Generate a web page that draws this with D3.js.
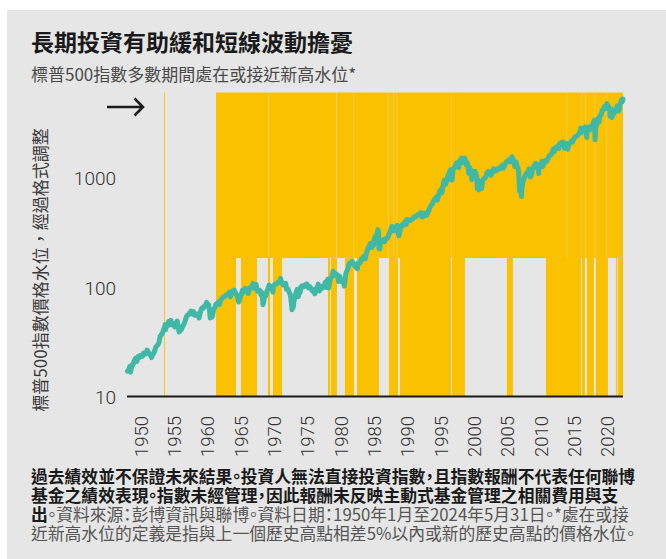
<!DOCTYPE html>
<html><head><meta charset="utf-8">
<script src="https://cdn.jsdelivr.net/npm/d3@7"></script>
<style>
html,body{margin:0;padding:0;background:#fff;}
svg{display:block;}
text{font-family:"Noto Sans CJK TC","Noto Sans",sans-serif;}
.num{font-family:Roboto,"Noto Sans",sans-serif;font-weight:300;}
.foot{font-feature-settings:"palt";}
</style></head><body>
<svg id="chart" width="666" height="559"></svg>
<script>
// ---------------- data ----------------
const titleText = "長期投資有助緩和短線波動擔憂";
const subtitleText = "標普500指數多數期間處在或接近新高水位*";
const yAxisTitle = "標普500指數價格水位，經過格式調整";
const yTickValues = [10, 100, 1000];
const xTickYears = [1950,1955,1960,1965,1970,1975,1980,1985,1990,1995,2000,2005,2010,2015,2020];
const footnoteLines = [
  [["過去績效並不保證未來結果。投資人無法直接投資指數，且指數報酬不代表任何聯博", true]],
  [["基金之績效表現。指數未經管理，因此報酬未反映主動式基金管理之相關費用與支", true]],
  [["出", true], ["。資料來源：彭博資訊與聯博。資料日期：1950年1月至2024年5月31日。*處在或接", false]],
  [["近新高水位的定義是指與上一個歷史高點相差5%以內或新的歷史高點的價格水位。", false]]
];

// periods at or near a new high (full height)
const nearHighPeriods = [
  ["1955-07-20","1955-09-05"],["1963-05-08","1966-05-08"],["1967-02-05","1969-07-01"],
  ["1971-02-25","1971-06-15"],["1971-11-25","1973-04-01"],["1980-02-25","1980-06-15"],
  ["1980-08-08","1981-07-01"],["1982-09-12","1984-01-18"],["1984-07-01","1987-10-19"],
  ["1989-04-20","1990-08-25"],["1990-12-15","1998-08-08"],["1998-10-01","2000-09-12"],
  ["2007-01-01","2007-11-25"],["2012-11-08","2018-02-08"],["2018-04-01","2018-09-12"],
  ["2019-01-01","2020-01-20"],["2020-05-08","2022-02-25"],["2023-05-08","2023-07-01"],
  ["2023-08-25","2024-05-31"]
];
// upper shading layer
const upperPeriods = [
  ["1955-07-20","1955-09-05"],["1963-05-08","1971-04-08"],["1971-04-28","1981-05-28"],
  ["1981-06-16","1984-01-08"],["1984-01-26","1989-02-25"],["1989-03-14","1990-01-10"],
  ["1990-01-28","1990-06-24"],["1990-07-10","1998-09-22"],["1998-10-08","2015-12-24"],
  ["2016-01-10","2018-03-22"],["2018-04-06","2018-10-28"],["2018-11-14","2020-03-06"],
  ["2020-03-22","2021-12-24"],["2022-01-10","2024-05-31"]
];

// S&P 500 price level
const spx = [
["1950-01",17.05],["1950-03",17.29],["1950-05",18.78],["1950-07-13",16.68],["1950-09",19.45],["1950-11",19.51],["1950-12",20.41],
["1951-02",21.80],["1951-04",22.43],["1951-06",20.96],["1951-08",23.28],["1951-09",23.26],["1951-11",22.88],["1951-12",23.77],
["1952-02",23.26],["1952-04",23.32],["1952-06",24.96],["1952-08",25.03],["1952-10",24.52],["1952-12",26.57],
["1953-01",26.38],["1953-03",25.29],["1953-06",24.14],["1953-09-14",22.71],["1953-11",24.76],["1953-12",24.81],
["1954-02",26.15],["1954-04",28.26],["1954-06",29.21],["1954-08",29.83],["1954-10",31.68],["1954-12",35.98],
["1955-02",36.76],["1955-04",37.96],["1955-06",41.03],["1955-08",43.18],["1955-09-23",45.63],["1955-10-11",40.80],["1955-12",45.48],
["1956-02",45.34],["1956-03",48.48],["1956-05",45.20],["1956-08-02",49.74],["1956-09",45.35],["1956-11",45.08],["1956-12",46.67],
["1957-02",43.26],["1957-04",45.74],["1957-07-15",49.13],["1957-09",42.42],["1957-10-22",38.98],["1957-12",39.99],
["1958-02",40.84],["1958-04",43.44],["1958-06",45.24],["1958-08",47.75],["1958-10",51.33],["1958-12",55.21],
["1959-02",55.41],["1959-04",57.59],["1959-06",58.47],["1959-07",60.51],["1959-09",56.88],["1959-11",58.28],["1959-12",59.89],
["1960-01",55.61],["1960-03",55.34],["1960-05",55.83],["1960-06",56.92],["1960-08",56.96],["1960-10-25",52.30],["1960-12",58.11],
["1961-02",63.44],["1961-04",65.31],["1961-06",64.64],["1961-08",68.07],["1961-10",68.62],["1961-12-12",72.64],["1961-12",71.55],
["1962-01",68.84],["1962-03",69.55],["1962-05",59.63],["1962-06-26",52.32],["1962-08",59.12],["1962-10-23",53.49],["1962-12",63.10],
["1963-02",64.29],["1963-04",69.80],["1963-06",69.37],["1963-08",72.50],["1963-10",74.01],["1963-11-22",69.61],["1963-12",75.02],
["1964-02",77.80],["1964-04",79.46],["1964-06",81.69],["1964-08",81.83],["1964-10",84.86],["1964-12",84.75],
["1965-02",87.43],["1965-05-13",90.27],["1965-06-28",81.60],["1965-08",87.17],["1965-10",92.42],["1965-12",92.43],
["1966-02-09",94.06],["1966-03",89.23],["1966-05",86.13],["1966-07",83.60],["1966-08",77.10],["1966-10-07",73.20],["1966-12",80.33],
["1967-02",86.78],["1967-04",94.01],["1967-06",90.64],["1967-08",93.64],["1967-09-25",97.59],["1967-11",94.00],["1967-12",96.47],
["1968-03-05",87.72],["1968-05",98.68],["1968-07",97.74],["1968-09",102.67],["1968-11-29",108.37],["1968-12",103.86],
["1969-02",98.13],["1969-05-14",106.16],["1969-07",91.83],["1969-09",93.12],["1969-11",93.81],["1969-12",92.06],
["1970-01",85.02],["1970-03",89.63],["1970-05-26",69.29],["1970-06",72.72],["1970-08",81.52],["1970-10",83.25],["1970-12",92.15],
["1971-02",96.75],["1971-04-28",104.77],["1971-06",98.70],["1971-08",99.03],["1971-10",94.23],["1971-11-23",90.16],["1971-12",102.09],
["1972-02",106.57],["1972-04",107.67],["1972-06",107.14],["1972-08",111.09],["1972-10",111.58],["1972-12",118.05],
["1973-01-11",120.24],["1973-03",111.52],["1973-05",104.95],["1973-07",108.22],["1973-08",104.25],["1973-10",108.29],["1973-11",95.96],["1973-12",97.55],
["1974-02",96.22],["1974-04",90.31],["1974-06",86.00],["1974-07",79.31],["1974-08",72.15],["1974-10-03",62.28],["1974-10",73.90],["1974-12-06",65.01],["1974-12",68.56],
["1975-01",76.98],["1975-03",83.36],["1975-05",91.15],["1975-07-15",95.61],["1975-09-16",82.09],["1975-11",91.24],["1975-12",90.19],
["1976-01",100.86],["1976-03",102.77],["1976-05",100.18],["1976-07",103.44],["1976-09",105.24],["1976-11",102.10],["1976-12",107.46],
["1977-02",99.82],["1977-04",98.44],["1977-06",100.48],["1977-08",96.77],["1977-10",92.34],["1977-12",95.10],
["1978-03-06",86.90],["1978-05",97.24],["1978-07",100.68],["1978-09-12",106.99],["1978-11-14",92.49],["1978-12",96.11],
["1979-02",96.28],["1979-04",101.76],["1979-05",99.08],["1979-07",103.81],["1979-10-05",111.27],["1979-11-07",99.87],["1979-12",107.94],
["1980-02-13",118.44],["1980-03-27",98.22],["1980-05",111.24],["1980-07",121.67],["1980-09",125.46],["1980-11-28",140.52],["1980-12-11",127.36],["1980-12",135.76],
["1981-02",131.27],["1981-04",132.81],["1981-06",131.21],["1981-08",122.79],["1981-09-25",112.77],["1981-11",126.35],["1981-12",122.55],
["1982-02",113.11],["1982-03",111.96],["1982-05",111.88],["1982-07",107.09],["1982-08-12",102.42],["1982-10",133.71],["1982-12",140.64],
["1983-02",148.06],["1983-04",164.42],["1983-06",168.11],["1983-08",164.40],["1983-10-10",172.65],["1983-12",164.93],
["1984-01",163.41],["1984-02",157.06],["1984-04",160.05],["1984-05",150.55],["1984-07-24",147.82],["1984-08",166.68],["1984-10",166.09],["1984-12",167.24],
["1985-02",181.18],["1985-04",179.83],["1985-06",191.85],["1985-08",188.63],["1985-09",182.08],["1985-11",202.17],["1985-12",211.28],
["1986-02",226.92],["1986-04",235.52],["1986-06",250.84],["1986-07",236.12],["1986-08",252.93],["1986-09",231.32],["1986-11",249.22],["1986-12",242.17],
["1987-01",274.08],["1987-03",291.70],["1987-05",290.10],["1987-07",318.66],["1987-08-25",336.77],["1987-09",321.83],["1987-10-19",224.84],["1987-10",251.79],["1987-12-04",223.92],["1987-12",247.08],
["1988-02",267.82],["1988-04",261.33],["1988-06",273.50],["1988-08",261.52],["1988-10",278.97],["1988-12",277.72],
["1989-02",288.86],["1989-04",309.64],["1989-06",317.98],["1989-08",351.45],["1989-10-09",359.80],["1989-10",340.36],["1989-12",353.40],
["1990-01",329.08],["1990-03",339.94],["1990-05",361.23],["1990-07-16",368.95],["1990-08",322.56],["1990-10-11",295.46],["1990-12",330.22],
["1991-02",367.07],["1991-04",375.34],["1991-06",371.16],["1991-08",395.43],["1991-10",392.45],["1991-11",375.22],["1991-12",417.09],
["1992-02",412.70],["1992-04",414.95],["1992-06",408.14],["1992-08",414.03],["1992-10",418.68],["1992-12",435.71],
["1993-02",443.38],["1993-04",440.19],["1993-06",450.53],["1993-08",463.56],["1993-10",467.83],["1993-12",466.45],
["1994-02-02",482.00],["1994-04-04",438.92],["1994-06",444.27],["1994-08",475.49],["1994-10",472.35],["1994-11",453.69],["1994-12",459.27],
["1995-02",487.39],["1995-04",514.71],["1995-06",544.75],["1995-08",561.88],["1995-10",581.50],["1995-12",615.93],
["1996-02",640.43],["1996-04",654.17],["1996-05",669.12],["1996-07-24",626.65],["1996-09",687.31],["1996-11",757.02],["1996-12",740.74],
["1997-02",790.82],["1997-04-11",737.65],["1997-05",848.28],["1997-07",954.29],["1997-08",899.47],["1997-10-27",876.99],["1997-12",970.43],
["1998-02",1049.34],["1998-04",1111.75],["1998-07-17",1186.75],["1998-08",957.28],["1998-10-08",959.44],["1998-11",1163.63],["1998-12",1229.23],
["1999-02",1238.33],["1999-04",1335.18],["1999-06",1372.71],["1999-08",1320.41],["1999-10-15",1247.41],["1999-12",1469.25],
["2000-01",1394.46],["2000-02",1366.42],["2000-03-24",1527.46],["2000-05",1420.60],["2000-07",1430.83],["2000-09-01",1520.77],["2000-10",1429.40],["2000-11",1314.95],["2000-12",1320.28],
["2001-01",1366.01],["2001-03",1160.33],["2001-04-04",1103.25],["2001-05",1255.82],["2001-08",1133.58],["2001-09-21",965.80],["2001-11",1139.45],["2001-12",1148.08],
["2002-02",1106.73],["2002-03",1147.39],["2002-05",1067.14],["2002-06",989.82],["2002-07-23",797.70],["2002-08",916.07],["2002-10-09",776.76],["2002-11",936.31],["2002-12",879.82],
["2003-03-11",800.73],["2003-05",963.59],["2003-07",990.31],["2003-09",995.97],["2003-11",1058.20],["2003-12",1111.92],
["2004-02",1144.94],["2004-04",1107.30],["2004-06",1140.84],["2004-08-12",1063.23],["2004-10",1130.20],["2004-12",1211.92],
["2005-02",1203.60],["2005-04",1156.85],["2005-06",1191.33],["2005-08",1220.33],["2005-10",1207.01],["2005-12",1248.29],
["2006-02",1280.66],["2006-04",1310.61],["2006-06-13",1223.69],["2006-08",1303.82],["2006-10",1377.94],["2006-12",1418.30],
["2007-02",1406.82],["2007-04",1482.37],["2007-06",1503.35],["2007-08-15",1406.70],["2007-10-09",1565.15],["2007-11",1481.14],["2007-12",1468.36],
["2008-01",1378.55],["2008-03-10",1273.37],["2008-05",1400.38],["2008-06",1280.00],["2008-07",1267.38],["2008-09",1166.36],["2008-10",968.75],["2008-11-20",752.44],["2008-12",903.25],
["2009-01",825.88],["2009-02",735.09],["2009-03-09",676.53],["2009-03",797.87],["2009-05",919.14],["2009-07",987.48],["2009-09",1057.08],["2009-11",1095.63],["2009-12",1115.10],
["2010-02",1104.49],["2010-04-23",1217.28],["2010-07-02",1022.58],["2010-08",1049.33],["2010-10",1183.26],["2010-12",1257.64],
["2011-02",1327.22],["2011-04-29",1363.61],["2011-06",1320.64],["2011-08",1218.89],["2011-10-03",1099.23],["2011-10",1253.30],["2011-12",1257.60],
["2012-02",1365.68],["2012-04-02",1419.04],["2012-06-01",1278.04],["2012-07",1379.32],["2012-09",1440.67],["2012-11",1416.18],["2012-12",1426.19],
["2013-02",1514.68],["2013-04",1597.57],["2013-06",1606.28],["2013-08",1632.97],["2013-10",1756.54],["2013-12",1848.36],
["2014-02-03",1741.89],["2014-03",1872.34],["2014-05",1923.57],["2014-07",1930.67],["2014-09",1972.29],["2014-10-15",1862.49],["2014-11",2067.56],["2014-12",2058.90],
["2015-02",2104.50],["2015-05-21",2130.82],["2015-06",2063.11],["2015-08-25",1867.61],["2015-09",1920.03],["2015-11",2080.41],["2015-12",2043.94],
["2016-02-11",1829.08],["2016-04",2065.30],["2016-06",2098.86],["2016-08",2170.95],["2016-10",2126.15],["2016-12",2238.83],
["2017-02",2363.64],["2017-04",2384.20],["2017-06",2423.41],["2017-08",2471.65],["2017-10",2575.26],["2017-12",2673.61],
["2018-01-26",2872.87],["2018-02-08",2581.00],["2018-03",2640.87],["2018-05",2705.27],["2018-07",2816.29],["2018-09-20",2930.75],["2018-10",2711.74],["2018-12-24",2351.10],["2018-12",2506.85],
["2019-01",2704.10],["2019-03",2834.40],["2019-04",2945.83],["2019-06-03",2744.45],["2019-07",2980.38],["2019-08",2926.46],["2019-10",3037.56],["2019-12",3230.78],
["2020-02-19",3386.15],["2020-03-23",2237.40],["2020-04",2912.43],["2020-06",3100.29],["2020-08",3500.31],["2020-10",3269.96],["2020-12",3756.07],
["2021-02",3811.15],["2021-04",4181.17],["2021-06",4297.50],["2021-08",4522.68],["2021-09",4307.54],["2021-11",4567.00],["2021-12",4766.18],
["2022-01-03",4796.56],["2022-01",4515.55],["2022-03",4530.41],["2022-05",4132.15],["2022-06-16",3666.77],["2022-08-16",4305.20],["2022-10-12",3577.03],["2022-11",4080.11],["2022-12",3839.50],
["2023-02",3970.15],["2023-04",4169.48],["2023-06",4450.38],["2023-07",4588.96],["2023-09",4288.05],["2023-10-27",4117.37],["2023-12",4769.83],
["2024-02",5096.27],["2024-03",5254.35],["2024-04-19",4967.23],["2024-05-31",5277.51]
];

// ---------------- layout ----------------
const W = 666, H = 559;
const plotLeft = 127, plotRight = 623, plotTop = 92.5, plotBottom = 396.5, bandSplitY = 258;
const colors = {panel:"#e6e6e6", band:"#fac100", line:"#3fb9a6", axis:"#1a1a1a", text:"#333333", bold:"#1a1a1a", note:"#555555"};

const pDay = d3.timeParse("%Y-%m-%d");
const parse = s => s.length === 7 ? pDay(s + "-28") : pDay(s);

const series = spx.map(([d, v]) => ({date: parse(d), value: v})).sort((a,b) => a.date - b.date);

const svg = d3.select("#chart");
svg.append("rect").attr("x",7).attr("y",10).attr("width",W-7).attr("height",H-10).attr("fill",colors.panel);

const x = d3.scaleTime().domain([parse("1950-01-01"), parse("2024-05-31")]).range([plotLeft, plotRight]);
const y = d3.scaleLog().domain([10, 1000]).range([plotBottom, 178]);

// bands
const bands = svg.append("g");
bands.selectAll("rect.up").data(upperPeriods).join("rect").attr("class","up")
  .attr("x", d => x(parse(d[0]))).attr("width", d => Math.max(0.8, x(parse(d[1])) - x(parse(d[0]))))
  .attr("y", plotTop).attr("height", bandSplitY - plotTop).attr("fill", colors.band);
bands.selectAll("rect.low").data(nearHighPeriods).join("rect").attr("class","low")
  .attr("x", d => x(parse(d[0]))).attr("width", d => Math.max(0.8, x(parse(d[1])) - x(parse(d[0]))))
  .attr("y", bandSplitY).attr("height", plotBottom - bandSplitY).attr("fill", colors.band);

// x axis
const xAxis = d3.axisBottom(x)
  .tickValues(xTickYears.map(yr => new Date(yr, 0, 1)))
  .tickFormat(d3.timeFormat("%Y")).tickSize(0).tickSizeOuter(0);
const gx = svg.append("g").attr("transform", `translate(0,${plotBottom})`).call(xAxis);
gx.select(".domain").attr("stroke", colors.axis).attr("stroke-width", 1.8)
  .attr("d", `M${plotLeft},0H${x(parse("2024-05-31"))}`);
gx.selectAll(".tick text")
  .attr("class","num").attr("x",0).attr("y",0).attr("dy","0.36em")
  .attr("transform","translate(13.5,19.5) rotate(-90)")
  .style("text-anchor","end").style("font-size","18.5px").attr("fill", colors.text);

// y axis
const yAxis = d3.axisLeft(y).tickValues(yTickValues).tickFormat(d3.format("d")).tickSize(0).tickPadding(0);
const gy = svg.append("g").attr("transform", `translate(116,0)`).call(yAxis);
gy.select(".domain").remove();
gy.selectAll(".tick text").attr("class","num").attr("dy","0.36em")
  .style("font-size","19px").attr("fill", colors.text);

// line
svg.append("path").datum(series)
  .attr("d", d3.line().x(d => x(d.date)).y(d => y(d.value)))
  .attr("fill","none").attr("stroke", colors.line).attr("stroke-width", 5)
  .attr("stroke-linejoin","round").attr("stroke-linecap","round");

// arrow
svg.append("path").attr("d","M107,107H142.5M134.5,98.5L143,107L134.5,115.5")
  .attr("fill","none").attr("stroke",colors.axis).attr("stroke-width",2.6);

// titles
svg.append("text").attr("x",31).attr("y",51).text(titleText)
  .style("font-size","23px").style("font-weight","700").attr("fill",colors.bold);
svg.append("text").attr("x",31).attr("y",81).text(subtitleText)
  .style("font-size","17px").attr("fill","#4a4a4a");
svg.append("text").attr("transform","translate(40.5,270) rotate(-90)").attr("dy","0.36em")
  .style("text-anchor","middle").style("font-size","17px").attr("fill","#3a3a3a").text(yAxisTitle);

// footnote
const footBaselines = [483, 502, 521, 540];
footnoteLines.forEach((segs, i) => {
  const line = svg.append("text").attr("class","foot").style("font-size","16.8px")
    .attr("x", 31).attr("y", footBaselines[i]);
  segs.forEach(seg => {
    line.append("tspan").text(seg[0])
      .style("font-weight", seg[1] ? "700" : "400")
      .attr("fill", seg[1] ? colors.bold : colors.note);
  });
});
</script>
</body></html>
